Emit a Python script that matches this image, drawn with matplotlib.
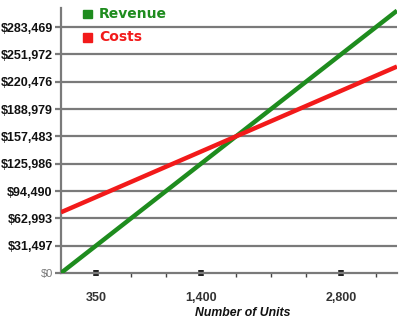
import matplotlib.pyplot as plt
from matplotlib.patches import Rectangle

# break-even data
units = [0, 3360]
revenue = [0, 302400]
costs = [70000, 238000]

y_ticks = [0, 31497, 62993, 94490, 125986, 157483, 188979, 220476, 251972, 283469]
y_labels = ["$0", "$31,497", "$62,993", "$94,490", "$125,986", "$157,483",
            "$188,979", "$220,476", "$251,972", "$283,469"]
x_major = [350, 1400, 2800]
x_major_labels = ["350", "1,400", "2,800"]
x_minor = [700, 1050, 1750, 2100, 2450, 3150]

green = "#1e8c1e"
red = "#f21a1a"
grid_c = "#7a7a7a"

fig = plt.figure(figsize=(4.0, 3.23), dpi=100)
ax = fig.add_axes([0.1525, 0.1548, 0.84, 0.8202])

for y in y_ticks[1:]:
    ax.axhline(y, color=grid_c, lw=1.6, zorder=1)

ax.plot(units, revenue, color=green, lw=3.2, solid_capstyle="butt", zorder=3)
ax.plot(units, costs, color=red, lw=3.2, solid_capstyle="butt", zorder=3)

ax.set_xlim(0, 3360)
ax.set_ylim(0, 305400)

for s in ["top", "right"]:
    ax.spines[s].set_visible(False)
ax.spines["left"].set_color(grid_c)
ax.spines["left"].set_linewidth(1.6)
ax.spines["bottom"].set_color(grid_c)
ax.spines["bottom"].set_linewidth(1.6)

ax.set_yticks(y_ticks)
ax.set_yticklabels(y_labels, family="Liberation Sans", fontweight="bold",
                   fontsize=9, color="#111111")
ax.tick_params(axis="y", length=4, width=1.6, color=grid_c, pad=2)
lbl0 = ax.get_yticklabels()[0]
lbl0.set_fontweight("normal")
lbl0.set_color("#777777")
lbl0.set_fontsize(8)

ax.set_xticks(x_major)
ax.set_xticklabels(x_major_labels, family="Liberation Sans", fontweight="bold",
                   fontsize=9, color="#333333")
ax.set_xticks(x_minor, minor=True)
ax.tick_params(axis="x", which="major", length=4, width=4, direction="inout",
               color="#222222", pad=12)
ax.tick_params(axis="x", which="minor", length=3, width=1, direction="out",
               color="#444444")

fig.text(0.607, 0.03, "Number of Units", family="Liberation Sans",
         style="italic", fontweight="bold", fontsize=8.8, ha="center",
         va="center", color="#111111")

# legend
for yy, col, name in [(0.957, green, "Revenue"), (0.885, red, "Costs")]:
    fig.patches.append(Rectangle((0.208, yy - 0.014), 0.021, 0.026,
                                 transform=fig.transFigure, color=col))
    fig.text(0.248, yy, name, color=col, fontsize=10, fontweight="bold",
             family="DejaVu Sans", ha="left", va="center")

fig.savefig("out.png", dpi=100)
